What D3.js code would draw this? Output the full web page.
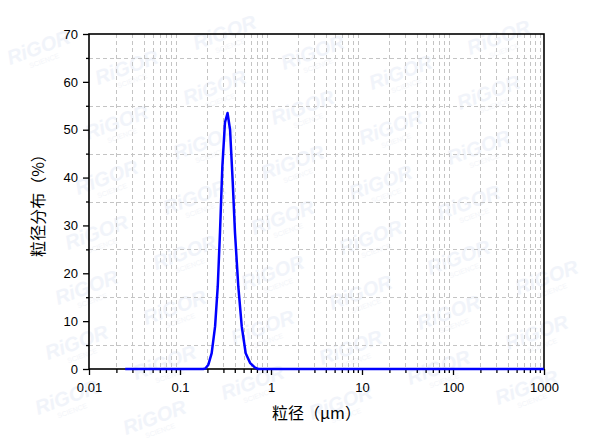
<!DOCTYPE html>
<html><head><meta charset="utf-8">
<script src="https://cdn.jsdelivr.net/npm/d3@7"></script>
<style>body{margin:0;background:#fff;}svg{display:block;}</style>
</head><body>
<svg id="chart" width="598" height="443"></svg>
<script>
// particle size (µm)
const sizes  = [0.025, 0.05, 0.1, 0.18, 0.19, 0.205, 0.223, 0.243, 0.26, 0.275, 0.292, 0.312, 0.333, 0.355, 0.38, 0.402, 0.437, 0.477, 0.527, 0.588, 0.667, 0.726, 1, 10, 100, 1000];
// distribution (%)
const values = [0, 0, 0, 0, 0.1, 0.9, 3.3, 8.9, 17.3, 28.5, 42.3, 51.5, 53.5, 50.0, 38.9, 28.5, 17.3, 8.9, 3.3, 1.3, 0.3, 0, 0, 0, 0, 0];
const xMajorTicks = [0.01, 0.1, 1, 10, 100, 1000];
const xTickLabels = ["0.01", "0.1", "1", "10", "100", "1000"];
const yMajorTicks = [0, 10, 20, 30, 40, 50, 60, 70];
const yMinorTicks = [5, 15, 25, 35, 45, 55, 65];
const xTitle = "粒径（μm）";
const yTitle = "粒径分布（%）";

const W = 598, H = 443;
const L = 89, R = 544, T = 34, B = 369;
const svg = d3.select("#chart");

// watermark (faint), kept fully inside the picture
const wm = svg.append("g").attr("pointer-events", "none");
for (let i = -3; i < 12; i++) {
  for (let j = -2; j < 10; j++) {
    const cx = i * 88 + j * (-10) + 20;
    const cy = i * 20 + j * 55 + 10;
    if (cx < 3 || cx > W - 80 || cy < 40 || cy > H - 6) continue;
    const g = wm.append("g").attr("transform", `translate(${cx},${cy}) rotate(-20)`);
    g.append("text").text("RiGOR").attr("font-family", "Liberation Sans, Arial, sans-serif")
      .attr("font-weight", "bold").attr("font-style", "italic").attr("font-size", 20)
      .attr("fill", "#f1f4fa");
    g.append("text").text("SCIENCE").attr("x", 18).attr("y", 10)
      .attr("font-family", "Liberation Sans, Arial, sans-serif").attr("font-size", 7)
      .attr("fill", "#f3f5f9");
  }
}

const x = d3.scaleLog().domain([0.01, 1000]).range([L, R]);
const y = d3.scaleLinear().domain([0, 70]).range([B, T]);

// minor x values (2..9 per decade)
const xMinorTicks = [];
for (let d = 0; d < xMajorTicks.length - 1; d++) {
  for (let k = 2; k <= 9; k++) xMinorTicks.push(+(xMajorTicks[d] * k).toPrecision(6));
}

// grid (dashed, minor positions only)
const grid = svg.append("g").attr("stroke", "#c4c4c4").attr("stroke-width", 1).attr("stroke-dasharray", "4,3");
grid.selectAll("line.v").data(xMinorTicks).join("line").attr("class", "v")
  .attr("x1", d => Math.round(x(d)) + 0.5).attr("x2", d => Math.round(x(d)) + 0.5)
  .attr("y1", T).attr("y2", B);
grid.selectAll("line.h").data(yMinorTicks).join("line").attr("class", "h")
  .attr("x1", L).attr("x2", R)
  .attr("y1", d => Math.round(y(d)) + 0.5).attr("y2", d => Math.round(y(d)) + 0.5);

// axes
const fontNum = "Liberation Sans, Arial, sans-serif";
const xAxisMajor = d3.axisBottom(x).tickValues(xMajorTicks).tickSize(6)
  .tickFormat((d, i) => xTickLabels[i]);
const gx = svg.append("g").attr("transform", `translate(0,${B})`).call(xAxisMajor);
gx.select(".domain").remove();
gx.selectAll("text").attr("y", 14).attr("font-size", 13).attr("font-family", fontNum).attr("fill", "#000");
gx.selectAll("line").attr("stroke", "#000").attr("stroke-width", 1.3);

const gxm = svg.append("g").attr("transform", `translate(0,${B})`)
  .call(d3.axisBottom(x).tickValues(xMinorTicks).tickSize(4).tickFormat(""));
gxm.select(".domain").remove();
gxm.selectAll("line").attr("stroke", "#000").attr("stroke-width", 1.3);

const gy = svg.append("g").attr("transform", `translate(${L},0)`)
  .call(d3.axisLeft(y).tickValues(yMajorTicks).tickSize(6));
gy.select(".domain").remove();
gy.selectAll("text").attr("x", -11).attr("font-size", 13).attr("font-family", fontNum).attr("fill", "#000");
gy.selectAll("line").attr("stroke", "#000").attr("stroke-width", 1.3);

const gym = svg.append("g").attr("transform", `translate(${L},0)`)
  .call(d3.axisLeft(y).tickValues(yMinorTicks).tickSize(3).tickFormat(""));
gym.select(".domain").remove();
gym.selectAll("line").attr("stroke", "#000").attr("stroke-width", 1.3);

// frame
svg.append("rect").attr("x", L).attr("y", T).attr("width", R - L).attr("height", B - T)
  .attr("fill", "none").attr("stroke", "#000").attr("stroke-width", 1.6);

// curve
const line = d3.line().x((d, i) => x(sizes[i])).y(d => y(d));
svg.append("path").datum(values).attr("d", line)
  .attr("fill", "none").attr("stroke", "#0000ff").attr("stroke-width", 2.5)
  .attr("stroke-linejoin", "round");

// titles
const fontCJK = "Noto Sans CJK SC, sans-serif";
svg.append("text").text(xTitle).attr("x", (L + R) / 2).attr("y", 412)
  .attr("text-anchor", "middle").attr("dominant-baseline", "central")
  .attr("font-family", fontCJK).attr("font-size", 16).attr("fill", "#000");
svg.append("text").text(yTitle)
  .attr("transform", `translate(37,${(T + B) / 2}) rotate(-90)`)
  .attr("text-anchor", "middle").attr("dominant-baseline", "central")
  .attr("font-family", fontCJK).attr("font-size", 16).attr("fill", "#000");
</script>
</body></html>
